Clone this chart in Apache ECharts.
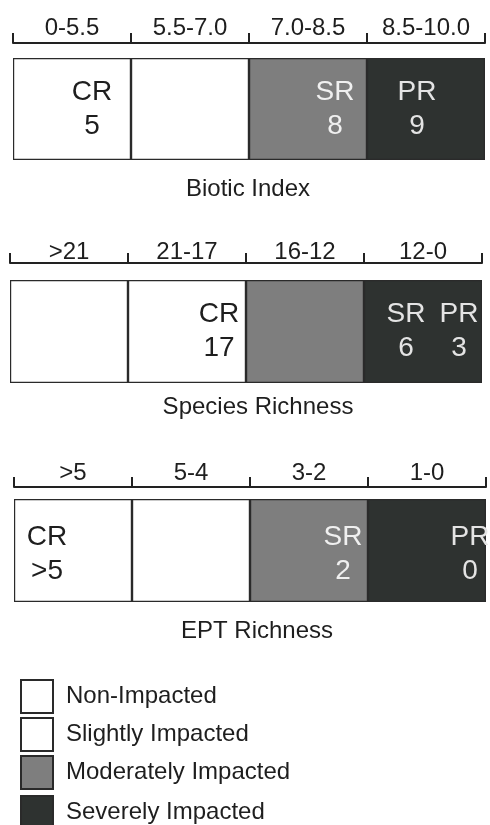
<!DOCTYPE html>
<html><head><meta charset="utf-8">
<script src="https://cdn.jsdelivr.net/npm/echarts@6/dist/echarts.min.js"></script>
<style>html,body{margin:0;padding:0;background:#fff}#c{width:490px;height:825px}</style>
</head><body><div id="c"></div>
<script>
// ---- data ----
const impactClasses = ['Non-Impacted','Slightly Impacted','Moderately Impacted','Severely Impacted'];
const panelTitles = ['Biotic Index','Species Richness','EPT Richness'];
const bioticRanges = ['0-5.5','5.5-7.0','7.0-8.5','8.5-10.0'];
const speciesRanges = ['>21','21-17','16-12','12-0'];
const eptRanges = ['>5','5-4','3-2','1-0'];
const siteNames = ['CR','SR','PR'];
const bioticScores = ['5','8','9'];
const speciesScores = ['17','6','3'];
const eptScores = ['>5','2','0'];
const bioticClassOfSite = [0,2,3];
const speciesClassOfSite = [1,3,3];
const eptClassOfSite = [0,2,3];

// ---- styles / layout ----
const FONT = '"Liberation Sans", Arial, Helvetica, sans-serif';
const classColors = ['#ffffff','#ffffff','#7e7e7e','#2e3230'];
const labelColors = ['#1e1e1e','#1e1e1e','#f0f0f0','#e4e4e4'];
const layout = [
  {left:13, barTop:58,  barH:102, axisGap:15, labelMargin:3,  titleX:248, titleY:177, labelOff:[[20,0],[27,0],[-9,0]]},
  {left:10, barTop:280, barH:103, axisGap:17, labelMargin:-1, titleX:258, titleY:395, labelOff:[[32,0],[-17,0],[36,0]]},
  {left:14, barTop:499, barH:103, axisGap:12, labelMargin:2,  titleX:257, titleY:619, labelOff:[[-26,4],[34,4],[43,4]]}
];
const panels = [
  {ranges:bioticRanges, scores:bioticScores, cls:bioticClassOfSite},
  {ranges:speciesRanges, scores:speciesScores, cls:speciesClassOfSite},
  {ranges:eptRanges, scores:eptScores, cls:eptClassOfSite}
];

const grid = [], xAxis = [], yAxis = [], series = [], title = [];
panels.forEach((p, pi) => {
  const L = layout[pi];
  grid.push({left:L.left, top:L.barTop, width:472, height:L.barH});
  xAxis.push({
    type:'category', gridIndex:pi, data:p.ranges, position:'top', offset:L.axisGap,
    boundaryGap:true,
    axisLine:{show:true, onZero:false, lineStyle:{color:'#222', width:2}},
    axisTick:{show:true, alignWithLabel:false, length:10, inside:false, lineStyle:{color:'#222', width:2}},
    axisLabel:{show:true, fontFamily:FONT, fontSize:24, color:'#1e1e1e', margin:L.labelMargin, interval:0},
    splitLine:{show:false}
  });
  yAxis.push({type:'value', gridIndex:pi, min:0, max:1, show:false});
  impactClasses.forEach((name, k) => {
    series.push({
      name, type:'bar', xAxisIndex:pi, yAxisIndex:pi, silent:true,
      data:p.ranges.map((r, i) => i === k ? 1 : '-'),
      barGap:'-100%', barCategoryGap:'0%',
      itemStyle:{color:classColors[k], borderColor:'#2a2a2a', borderWidth:1.2}
    });
  });
  series.push({
    type:'scatter', xAxisIndex:pi, yAxisIndex:pi, silent:true, symbolSize:1,
    itemStyle:{color:'rgba(0,0,0,0)', opacity:1},
    data:siteNames.map((s, i) => ({
      value:[p.ranges[p.cls[i]], 0.5],
      label:{
        offset:L.labelOff[i],
        formatter:'{s|' + s + '}\n{v|' + p.scores[i] + '}',
        rich:{
          s:{fontFamily:FONT, fontSize:28, lineHeight:34, color:labelColors[p.cls[i]], align:'center', opacity:1},
          v:{fontFamily:FONT, fontSize:28, lineHeight:34, color:labelColors[p.cls[i]], align:'center', opacity:1}
        }
      }
    })),
    label:{show:true, position:'inside', align:'center', verticalAlign:'middle', opacity:1}
  });
  title.push({
    text:panelTitles[pi], left:L.titleX, top:L.titleY, textAlign:'center', padding:0,
    textStyle:{fontFamily:FONT, fontSize:24, fontWeight:'normal', color:'#1e1e1e'}
  });
});

const legendCommon = {
  orient:'vertical', left:20, padding:0,
  icon:'rect', itemWidth:32, itemHeight:33, itemGap:3, selectedMode:false,
  textStyle:{fontFamily:FONT, fontSize:24, color:'#1e1e1e', padding:[0,0,0,8]}
};

const chart = echarts.init(document.getElementById('c'), null, {renderer:'canvas'});
chart.setOption({
  backgroundColor:'#ffffff',
  animation:false,
  title, grid, xAxis, yAxis, series,
  legend:[
    Object.assign({}, legendCommon, {data:impactClasses.slice(0, 3), top:679}),
    Object.assign({}, legendCommon, {data:impactClasses.slice(3), top:795})
  ]
});
</script></body></html>
